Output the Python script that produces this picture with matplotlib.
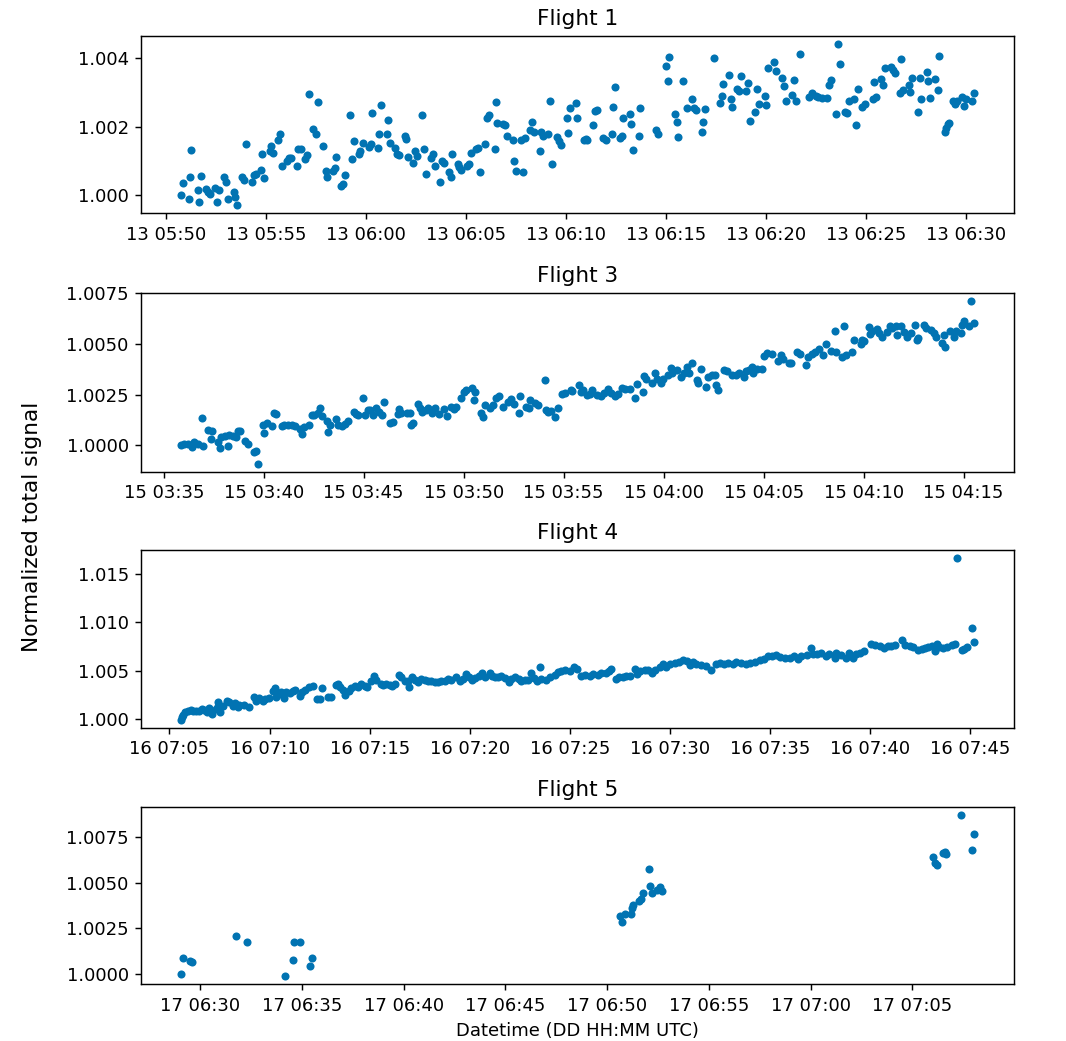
import matplotlib
matplotlib.use("Agg")
import matplotlib.pyplot as plt
import matplotlib.dates as mdates
from matplotlib.ticker import MultipleLocator, ScalarFormatter
import numpy as np
import pandas as pd

# ---- Flight 1: seconds after 13 05:50:00 UTC and normalized total signal ----
flight1_start = "2021-09-13 05:50:00"
flight1_sec = [
    44, 49, 67, 75, 72, 94, 98, 103, 118, 125,
    132, 146, 152, 158, 173, 180, 184, 202, 207, 212,
    228, 234, 238, 256, 262, 268, 283, 288, 293, 310,
    315, 321, 336, 341, 346, 362, 368, 375, 391, 396,
    403, 416, 421, 428, 441, 448, 454, 470, 478, 481,
    500, 505, 510, 525, 530, 536, 551, 558, 564, 577,
    582, 591, 608, 613, 616, 634, 639, 643, 662, 665,
    670, 687, 693, 697, 716, 720, 725, 741, 745, 751,
    768, 774, 779, 796, 802, 806, 823, 827, 833, 850,
    855, 859, 875, 879, 884, 902, 909, 914, 930, 935,
    941, 958, 964, 968, 986, 990, 994, 1011, 1017, 1022,
    1040, 1045, 1049, 1065, 1071, 1076, 1092, 1098, 1104, 1121,
    1125, 1131, 1147, 1153, 1158, 1173, 1180, 1184, 1202, 1207,
    1212, 1229, 1232,
    1254, 1260, 1264, 1282, 1287, 1294, 1312, 1319, 1337, 1342,
    1347, 1362, 1369, 1370, 1392, 1395, 1400, 1419, 1422, 1470,
    1477, 1499, 1505, 1509, 1526, 1532, 1536, 1552, 1562, 1579,
    1585, 1590, 1609, 1612, 1617, 1644, 1662, 1667, 1671, 1689,
    1694, 1699, 1712, 1719, 1726, 1740, 1747, 1752, 1769, 1775,
    1780, 1797, 1802, 1806, 1824, 1830, 1850, 1856, 1861, 1878,
    1884, 1890, 1904, 1930, 1940, 1952, 1957, 1970, 1985, 1990,
    1996, 2012, 2018, 2022, 2038, 2044, 2050, 2065, 2072, 2078,
    2090, 2097, 2122, 2125, 2130, 2147, 2152, 2158, 2175, 2182,
    2187, 2202, 2207, 2212, 2229, 2234, 2239, 2256, 2262, 2266,
    2283, 2287, 2293, 2309, 2316, 2320, 2337, 2342, 2347, 2350,
    2362, 2369, 2375, 2390, 2395, 2400, 2419, 2425,
]
flight1_signal = [
    1.00002, 1.00037, 0.99990, 1.00133, 1.00054, 1.00014, 0.99980, 1.00056, 1.00018, 1.00009,
    1.00003, 1.00022, 0.99981, 1.00014, 1.00054, 1.00038, 0.99989, 1.00009, 0.99995, 0.99971,
    1.00053, 1.00044, 1.00151, 1.00040, 1.00058, 1.00062, 1.00074, 1.00119, 1.00051, 1.00128,
    1.00145, 1.00122, 1.00162, 1.00179, 1.00084, 1.00101, 1.00109, 1.00108, 1.00084, 1.00135,
    1.00135, 1.00105, 1.00117, 1.00295, 1.00194, 1.00178, 1.00271, 1.00144, 1.00072, 1.00052,
    1.00072, 1.00081, 1.00113, 1.00028, 1.00034, 1.00059, 1.00233, 1.00105, 1.00158, 1.00121,
    1.00129, 1.00153, 1.00141, 1.00149, 1.00239, 1.00139, 1.00178, 1.00262, 1.00178, 1.00220,
    1.00152, 1.00138, 1.00119, 1.00117, 1.00174, 1.00164, 1.00112, 1.00095, 1.00128, 1.00116,
    1.00233, 1.00135, 1.00062, 1.00110, 1.00120, 1.00086, 1.00040, 1.00101, 1.00093, 1.00069,
    1.00052, 1.00120, 1.00090, 1.00083, 1.00073, 1.00085, 1.00092, 1.00122, 1.00135, 1.00137,
    1.00067, 1.00149, 1.00224, 1.00233, 1.00134, 1.00272, 1.00210, 1.00209, 1.00205, 1.00173,
    1.00160, 1.00101, 1.00070, 1.00160, 1.00069, 1.00168, 1.00191, 1.00215, 1.00184, 1.00129,
    1.00184, 1.00172, 1.00179, 1.00275, 1.00091, 1.00170, 1.00159, 1.00148, 1.00225, 1.00183,
    1.00254, 1.00269, 1.00225,
    1.00160, 1.00165, 1.00160, 1.00204, 1.00246, 1.00248, 1.00167, 1.00162, 1.00178, 1.00257,
    1.00317, 1.00167, 1.00174, 1.00224, 1.00237, 1.00207, 1.00131, 1.00172, 1.00256, 1.00189,
    1.00178, 1.00377, 1.00333, 1.00404, 1.00237, 1.00215, 1.00170, 1.00332, 1.00256, 1.00280,
    1.00254, 1.00249, 1.00186, 1.00215, 1.00252, 1.00401, 1.00268, 1.00291, 1.00325, 1.00351,
    1.00281, 1.00257, 1.00311, 1.00305, 1.00347, 1.00305, 1.00328, 1.00217, 1.00244, 1.00309,
    1.00267, 1.00290, 1.00263, 1.00370, 1.00389, 1.00363, 1.00341, 1.00318, 1.00275, 1.00292,
    1.00337, 1.00275, 1.00413, 1.00288, 1.00298, 1.00291, 1.00288, 1.00283, 1.00283, 1.00322,
    1.00335, 1.00237, 1.00441, 1.00382, 1.00243, 1.00240, 1.00275, 1.00280, 1.00204, 1.00310,
    1.00257, 1.00267, 1.00280, 1.00329, 1.00288, 1.00340, 1.00321, 1.00372, 1.00375, 1.00366,
    1.00356, 1.00298, 1.00397, 1.00307, 1.00322, 1.00301, 1.00343, 1.00244, 1.00343, 1.00281,
    1.00359, 1.00334, 1.00284, 1.00340, 1.00307, 1.00407, 1.00185, 1.00196, 1.00208, 1.00210,
    1.00274, 1.00267, 1.00275, 1.00288, 1.00259, 1.00281, 1.00274, 1.00298,
]

# ---- Flight 3: seconds after 15 03:35:00 UTC ----
flight3_start = "2021-09-15 03:35:00"
flight3_sec = [
    52, 60, 72, 85, 92, 102, 114, 117, 132, 142,
    144, 162, 169, 173, 184, 194, 196, 207, 217, 224,
    230, 244, 254, 272, 278, 282, 297, 302, 309, 326,
    332, 337, 354, 360, 372, 384, 394, 410, 414, 422,
    437, 444, 452, 462, 469, 475, 489, 494, 500, 517,
    522, 535, 543, 554, 571, 576, 584, 598, 605, 612,
    619, 627, 637, 645, 654, 662, 680, 688, 702, 707,
    712, 731, 738, 742, 747, 762, 768, 775, 787, 794,
    806, 814, 825, 842, 850, 862, 872, 878, 892, 900,
    908, 924, 932, 935, 952, 957, 965, 978, 987, 998,
    1006, 1018, 1032, 1042, 1052, 1065, 1070, 1087, 1095, 1100,
    1114, 1124, 1144, 1146, 1152, 1162, 1175, 1182, 1194, 1204,
    1221, 1226, 1246, 1251, 1258, 1271, 1278, 1286, 1301, 1311,
    1321, 1334, 1341, 1354, 1364, 1376, 1384, 1398, 1414, 1421,
    1438, 1441, 1448, 1466, 1474, 1481, 1491, 1499, 1512, 1521,
    1526, 1541, 1551, 1561, 1571, 1576, 1584, 1601, 1603, 1611,
    1626, 1634, 1644, 1654, 1656, 1664, 1681, 1691, 1706, 1716,
    1726, 1741, 1746, 1756, 1764, 1768, 1781, 1794, 1801, 1811,
    1826, 1844, 1851, 1858, 1876, 1881, 1901, 1908, 1926, 1932,
    1944, 1954, 1966, 1978, 1988, 2001, 2013, 2016, 2036, 2042,
    2046, 2064, 2072, 2091, 2096, 2101, 2116, 2119, 2126, 2141,
    2146, 2156, 2171, 2178, 2186, 2198, 2201, 2211, 2221, 2231,
    2241, 2253, 2261, 2264, 2281, 2288, 2301, 2311, 2316, 2334,
    2341, 2344, 2359, 2371, 2376, 2391, 2396, 2401, 2416, 2423,
    2431,
]
flight3_signal = [
    1.00000, 1.00008, 1.00005, 0.99992, 1.00017, 1.00005, 1.00135, 0.99997, 1.00074, 1.00028,
    1.00068, 1.00017, 0.99988, 1.00041, 1.00046, 0.99998, 1.00050, 1.00046, 1.00041, 1.00068,
    1.00069, 1.00021, 1.00005, 0.99964, 0.99969, 0.99909, 1.00101, 1.00061, 1.00111, 1.00094,
    1.00157, 1.00152, 1.00096, 1.00101, 1.00099, 1.00101, 1.00094, 1.00078, 1.00054, 1.00091,
    1.00099, 1.00147, 1.00149, 1.00160, 1.00182, 1.00144, 1.00120, 1.00064, 1.00101, 1.00129,
    1.00099, 1.00096, 1.00102, 1.00120, 1.00165, 1.00152, 1.00147, 1.00233, 1.00147, 1.00173,
    1.00173, 1.00149, 1.00182, 1.00162, 1.00147, 1.00215, 1.00107, 1.00116, 1.00152, 1.00177,
    1.00157, 1.00157, 1.00158, 1.00099, 1.00111, 1.00201, 1.00182, 1.00165, 1.00173, 1.00182,
    1.00157, 1.00182, 1.00152, 1.00180, 1.00145, 1.00190, 1.00178, 1.00186, 1.00231, 1.00264,
    1.00272, 1.00281, 1.00223, 1.00261, 1.00157, 1.00140, 1.00198, 1.00185, 1.00198, 1.00231,
    1.00243, 1.00190, 1.00215, 1.00226, 1.00201, 1.00157, 1.00243, 1.00190, 1.00182, 1.00223,
    1.00206, 1.00198, 1.00322, 1.00173, 1.00165, 1.00168, 1.00140, 1.00182, 1.00251, 1.00256,
    1.00272, 1.00267, 1.00297, 1.00264, 1.00272, 1.00248, 1.00252, 1.00272, 1.00248, 1.00243,
    1.00256, 1.00276, 1.00256, 1.00243, 1.00252, 1.00281, 1.00276, 1.00276, 1.00231, 1.00300,
    1.00264, 1.00342, 1.00325, 1.00305, 1.00355, 1.00325, 1.00305, 1.00325, 1.00347, 1.00383,
    1.00358, 1.00371, 1.00335, 1.00358, 1.00388, 1.00358, 1.00404, 1.00322, 1.00305, 1.00378,
    1.00289, 1.00335, 1.00347, 1.00347, 1.00297, 1.00272, 1.00371, 1.00366, 1.00347, 1.00347,
    1.00355, 1.00338, 1.00368, 1.00371, 1.00388, 1.00355, 1.00378, 1.00375, 1.00441, 1.00454,
    1.00450, 1.00416, 1.00446, 1.00426, 1.00408, 1.00408, 1.00462, 1.00450, 1.00396, 1.00437,
    1.00450, 1.00462, 1.00474, 1.00446, 1.00500, 1.00465, 1.00566, 1.00462, 1.00437, 1.00586,
    1.00446, 1.00462, 1.00520, 1.00500, 1.00520, 1.00512, 1.00581, 1.00548, 1.00566, 1.00573,
    1.00553, 1.00533, 1.00561, 1.00589, 1.00578, 1.00586, 1.00545, 1.00586, 1.00561, 1.00536,
    1.00556, 1.00594, 1.00520, 1.00531, 1.00594, 1.00578, 1.00569, 1.00553, 1.00536, 1.00503,
    1.00545, 1.00487, 1.00566, 1.00536, 1.00566, 1.00553, 1.00594, 1.00611, 1.00589, 1.00710,
    1.00602,
]

# ---- Flight 4: seconds after 16 07:05:00 UTC ----
flight4_start = "2021-09-16 07:05:00"
flight4_sec = [
    35, 38, 42, 47, 57, 65, 70, 80, 90, 98,
    105, 112, 120, 125, 128, 140, 145, 147, 153, 160,
    173, 180, 190, 197, 205, 210, 225, 237, 252, 260,
    267, 280, 287, 297, 310, 317, 320, 327, 335, 343,
    350, 360, 370, 375, 390, 397, 405, 417, 430, 443,
    450, 457, 475, 483, 500, 505, 510, 520, 527, 537,
    545, 555, 565, 575, 585, 592, 605, 613, 620, 633,
    640, 650, 660, 667, 675, 687, 693, 705, 715, 718,
    727, 735, 745, 753, 765, 775, 785, 795, 805, 815,
    825, 835, 845, 860, 870, 880, 890, 898, 908, 915,
    927, 937, 945, 960, 967, 975, 985, 995, 1005, 1018,
    1025, 1035, 1047, 1055, 1065, 1075, 1083, 1092, 1102, 1110,
    1115, 1130, 1140, 1155, 1165, 1175, 1187, 1200, 1211, 1220,
    1233,
    1244, 1259, 1269, 1284, 1294, 1309, 1317, 1324, 1339, 1347,
    1359, 1369, 1379, 1394, 1402, 1409, 1424, 1434, 1447, 1454,
    1469, 1479, 1487, 1499, 1514, 1527, 1539, 1551, 1561, 1569,
    1579, 1594, 1609, 1624, 1639, 1649, 1661, 1674, 1689, 1699,
    1714, 1727, 1739, 1754, 1769, 1781, 1794, 1807, 1819, 1831,
    1844, 1859, 1871, 1884, 1894, 1911, 1924, 1929, 1941, 1954,
    1969, 1977, 1994, 1999, 2014, 2029, 2037, 2049, 2059, 2069,
    2081, 2104, 2114, 2129, 2141, 2154, 2164, 2174, 2194, 2204,
    2219, 2229, 2244, 2254, 2264, 2274, 2284, 2294, 2299, 2307,
    2319, 2331, 2344, 2354, 2361, 2374, 2381, 2391, 2404, 2411,
]
flight4_signal = [
    0.99993, 1.00017, 1.00045, 1.00069, 1.00086, 1.00096, 1.00079, 1.00086, 1.00086, 1.00103,
    1.00096, 1.00075, 1.00113, 1.00069, 1.00051, 1.00103, 1.00137, 1.00172, 1.00069, 1.00137,
    1.00189, 1.00178, 1.00137, 1.00161, 1.00120, 1.00147, 1.00147, 1.00120, 1.00223, 1.00189,
    1.00216, 1.00189, 1.00206, 1.00213, 1.00292, 1.00316, 1.00223, 1.00257, 1.00274, 1.00216,
    1.00274, 1.00264, 1.00292, 1.00302, 1.00240, 1.00274, 1.00302, 1.00326, 1.00343, 1.00206,
    1.00206, 1.00319, 1.00223, 1.00230, 1.00353, 1.00360, 1.00326, 1.00302, 1.00250, 1.00292,
    1.00319, 1.00343, 1.00326, 1.00360, 1.00343, 1.00326, 1.00394, 1.00439, 1.00401, 1.00360,
    1.00353, 1.00360, 1.00353, 1.00343, 1.00360, 1.00456, 1.00429, 1.00394, 1.00394, 1.00326,
    1.00436, 1.00401, 1.00377, 1.00412, 1.00401, 1.00394, 1.00394, 1.00384, 1.00384, 1.00394,
    1.00394, 1.00412, 1.00401, 1.00429, 1.00394, 1.00412, 1.00463, 1.00429, 1.00401, 1.00422,
    1.00446, 1.00480, 1.00436, 1.00480, 1.00446, 1.00429, 1.00429, 1.00446, 1.00422, 1.00384,
    1.00412, 1.00429, 1.00412, 1.00394, 1.00401, 1.00401, 1.00480, 1.00418, 1.00394, 1.00532,
    1.00412, 1.00401, 1.00429, 1.00453, 1.00487, 1.00497, 1.00504, 1.00497, 1.00539, 1.00515,
    1.00446,
    1.00456, 1.00446, 1.00463, 1.00453, 1.00480, 1.00480, 1.00497, 1.00515, 1.00412, 1.00429,
    1.00429, 1.00446, 1.00446, 1.00515, 1.00463, 1.00497, 1.00504, 1.00504, 1.00480, 1.00504,
    1.00532, 1.00566, 1.00539, 1.00573, 1.00583, 1.00593, 1.00607, 1.00600, 1.00559, 1.00593,
    1.00573, 1.00559, 1.00549, 1.00504, 1.00566, 1.00583, 1.00573, 1.00583, 1.00566, 1.00590,
    1.00580, 1.00566, 1.00583, 1.00593, 1.00607, 1.00617, 1.00652, 1.00652, 1.00659, 1.00645,
    1.00635, 1.00635, 1.00652, 1.00624, 1.00652, 1.00659, 1.00737, 1.00676, 1.00669, 1.00686,
    1.00652, 1.00669, 1.00635, 1.00686, 1.00662, 1.00635, 1.00686, 1.00635, 1.00676, 1.00686,
    1.00703, 1.00779, 1.00761, 1.00755, 1.00737, 1.00755, 1.00755, 1.00761, 1.00813, 1.00765,
    1.00755, 1.00748, 1.00710, 1.00727, 1.00731, 1.00748, 1.00755, 1.00703, 1.00779, 1.00744,
    1.00737, 1.00748, 1.00761, 1.00779, 1.01664, 1.00710, 1.00720, 1.00744, 1.00936, 1.00799,
]

# ---- Flight 5: seconds after 17 06:29:00 UTC ----
flight5_start = "2021-09-17 06:29:00"
flight5_sec = [
    3, 8, 30, 36, 166, 198, 311, 334, 337, 355,
    382, 388, 1297, 1305, 1312, 1329, 1332, 1337, 1354, 1359,
    1366, 1382, 1387, 1393, 1407, 1415, 1421, 2221, 2228, 2233,
    2251, 2256, 2261, 2303, 2336, 2342,
]
flight5_signal = [
    1.00000, 1.00085, 1.00071, 1.00064, 1.00205, 1.00176, 0.99987, 1.00075, 1.00173, 1.00176,
    1.00040, 1.00084, 1.00315, 1.00285, 1.00327, 1.00327, 1.00358, 1.00376, 1.00400, 1.00409,
    1.00440, 1.00576, 1.00482, 1.00445, 1.00460, 1.00473, 1.00453, 1.00640, 1.00609, 1.00594,
    1.00664, 1.00669, 1.00655, 1.00869, 1.00678, 1.00767,
]

flights = [
    ("Flight 1", flight1_start, flight1_sec, flight1_signal, 0.002),
    ("Flight 3", flight3_start, flight3_sec, flight3_signal, 0.0025),
    ("Flight 4", flight4_start, flight4_sec, flight4_signal, 0.005),
    ("Flight 5", flight5_start, flight5_sec, flight5_signal, 0.0025),
]

DPI = 130
fig = plt.figure(figsize=(1066 / DPI, 1041 / DPI), dpi=DPI)

left, width = 0.1327, 0.8181
panel_rects = [
    (left, 0.7951, width, 0.1703),
    (left, 0.5469, width, 0.1714),
    (left, 0.3010, width, 0.1707),
    (left, 0.0548, width, 0.1697),
]
point_color = "#0173B2"

for (title, start, secs, signal, ystep), rect in zip(flights, panel_rects):
    ax = fig.add_axes(rect)
    times = pd.Timestamp(start) + pd.to_timedelta(np.asarray(secs), unit="s")
    ax.scatter(times.to_pydatetime(), signal, s=20, color=point_color,
               linewidths=0, zorder=2)
    ax.set_title(title)
    ax.xaxis.set_major_locator(mdates.MinuteLocator(byminute=range(0, 60, 5)))
    ax.xaxis.set_major_formatter(mdates.DateFormatter("%d %H:%M"))
    ax.yaxis.set_major_locator(MultipleLocator(ystep))
    ax.yaxis.set_major_formatter(ScalarFormatter(useOffset=False))

ax.set_xlabel("Datetime (DD HH:MM UTC)")
fig.text(0.030, 0.4937, "Normalized total signal", rotation=90,
         ha="center", va="center", fontsize=12)

fig.savefig("out.png", dpi=DPI)
